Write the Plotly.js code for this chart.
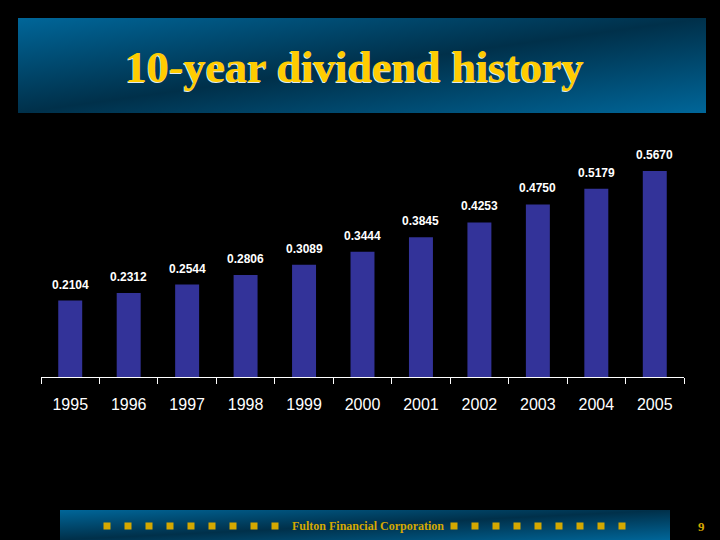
<!DOCTYPE html>
<html>
<head>
<meta charset="utf-8">
<script src="https://cdn.plot.ly/plotly-3.0.1.min.js"></script>
<style>
html,body{margin:0;padding:0;background:#000;}
#chart{width:720px;height:540px;}
</style>
</head>
<body>
<div id="chart"></div>
<script>
// ---- data ----
var years = ["1995","1996","1997","1998","1999","2000","2001","2002","2003","2004","2005"];
var dividends = [0.2104, 0.2312, 0.2544, 0.2806, 0.3089, 0.3444, 0.3845, 0.4253, 0.4750, 0.5179, 0.5670];
var titleText = "10-year dividend history";
var footerText = "Fulton Financial Corporation";
var pageNumber = "9";

// ---- layout geometry (pixels) ----
var W = 720, H = 540;
var M = {l: 41, r: 36, t: 159, b: 163};
var PW = W - M.l - M.r, PH = H - M.t - M.b;
function px(x){ return (x - M.l) / PW; }
function py(y){ return (H - M.b - y) / PH; }

function gradSvg(w, h, c1, c2, c3){
  var s = '<svg xmlns="http://www.w3.org/2000/svg" width="'+w+'" height="'+h+'" preserveAspectRatio="none" viewBox="0 0 '+w+' '+h+'">' +
    '<defs><linearGradient id="g" x1="0" y1="0" x2="1" y2="1">' +
    '<stop offset="0" stop-color="'+c1+'"/><stop offset="0.5" stop-color="'+c2+'"/><stop offset="1" stop-color="'+c3+'"/>' +
    '</linearGradient></defs><rect width="'+w+'" height="'+h+'" fill="url(#g)"/></svg>';
  return 'data:image/svg+xml;base64,' + btoa(s);
}

var images = [
  {source: gradSvg(688, 95, '#006699', '#00304a', '#006699'), xref:'paper', yref:'paper',
   x: px(18), y: py(18), sizex: 688/PW, sizey: 95/PH, sizing:'stretch', xanchor:'left', yanchor:'top', layer:'below'},
  {source: gradSvg(610, 30, '#006699', '#00304a', '#006699'), xref:'paper', yref:'paper',
   x: px(60), y: py(510), sizex: 610/PW, sizey: 30/PH, sizing:'stretch', xanchor:'left', yanchor:'top', layer:'below'}
];

var shapes = [];
var sq = 7, gold2 = '#D4A800';
for (var g = 0; g < 2; g++){
  var start = g === 0 ? 107 : 454;
  for (var i = 0; i < 9; i++){
    var cx = start + 21*i;
    shapes.push({type:'rect', xref:'paper', yref:'paper',
      x0: px(cx - sq/2), x1: px(cx + sq/2), y0: py(526 + sq/2), y1: py(526 - sq/2),
      fillcolor: gold2, line:{width:0}});
  }
}

var annotations = [];
// title
annotations.push({xref:'paper', yref:'paper', x: px(354), y: py(68), text: '<b>'+titleText+'</b>', showarrow:false,
  xanchor:'center', yanchor:'middle', font:{family:'Liberation Serif, Times New Roman, serif', size:44, color:'#FFCC00',
  shadow:'-1px 1px 0px #dfe8ee'}});
// footer
annotations.push({xref:'paper', yref:'paper', x: px(368), y: py(526), text: '<b>'+footerText+'</b>', showarrow:false,
  xanchor:'center', yanchor:'middle', font:{family:'Liberation Serif, Times New Roman, serif', size:12, color:gold2}});
annotations.push({xref:'paper', yref:'paper', x: px(701), y: py(526), text: '<b>'+pageNumber+'</b>', showarrow:false,
  xanchor:'center', yanchor:'middle', font:{family:'Liberation Serif, Times New Roman, serif', size:13, color:gold2}});
// value labels (category index positions)
for (var k = 0; k < years.length; k++){
  annotations.push({x: k, y: dividends[k], xref:'x', yref:'y', text: '<b>'+dividends[k].toFixed(4)+'</b>',
    showarrow:false, yanchor:'bottom', xanchor:'center', yshift: 7,
    font:{family:'Arial, Liberation Sans, sans-serif', size:12, color:'#ffffff'}});
}

var trace = {type:'bar', x: years, y: dividends, width: 0.41,
  marker:{color:'#333399', line:{width:0}}, hoverinfo:'none'};

var layout = {
  width: W, height: H, margin: M,
  paper_bgcolor:'#000000', plot_bgcolor:'#000000',
  showlegend:false,
  xaxis:{type:'category', range:[-0.5, years.length - 0.5], tickson:'boundaries', ticks:'outside', ticklen:6, tickwidth:1, tickcolor:'#ffffff',
    showline:true, linecolor:'#ffffff', linewidth:1, showgrid:false, zeroline:false, tickangle:0,
    tickfont:{family:'Arial, Liberation Sans, sans-serif', size:16, color:'#ffffff'}, ticklabelstandoff: 13},
  yaxis:{range:[0, 0.6], visible:false, showgrid:false, zeroline:false},
  images: images, shapes: shapes, annotations: annotations
};

Plotly.newPlot('chart', [trace], layout, {displayModeBar:false, staticPlot:true});
</script>
</body>
</html>
